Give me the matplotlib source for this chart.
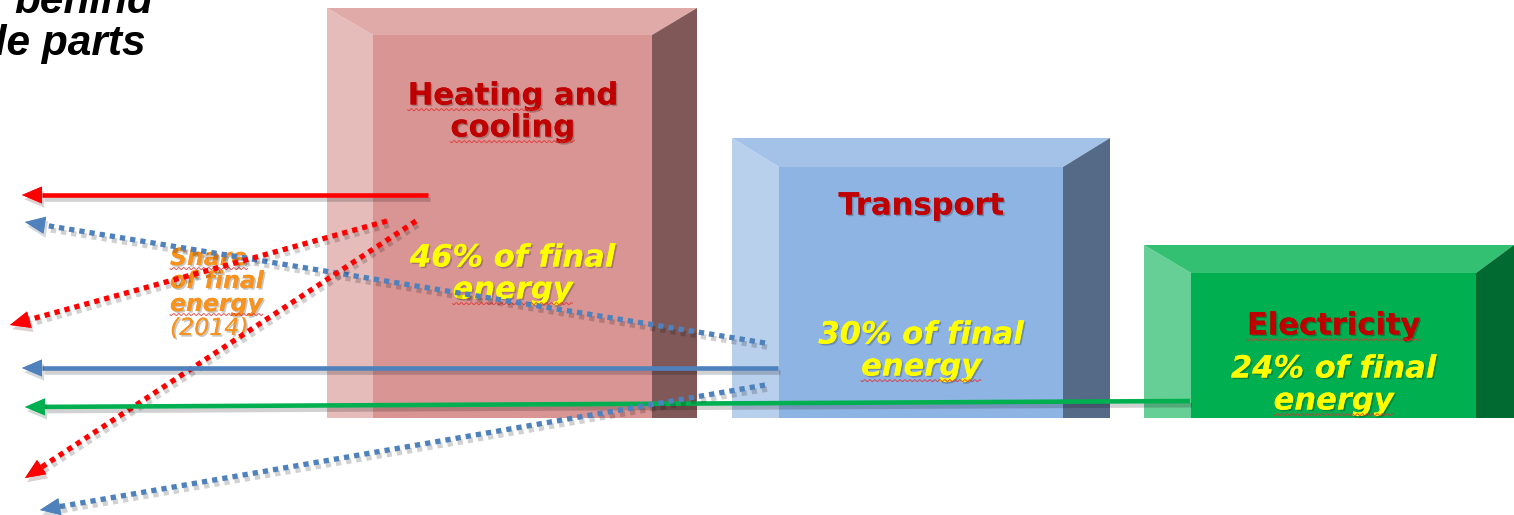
import numpy as np
import matplotlib
matplotlib.use("Agg")
import matplotlib.pyplot as plt
from matplotlib.patches import Polygon
import matplotlib.patheffects as pe

# ---------------- data ----------------
sectors = ["Heating and\ncooling", "Transport", "Electricity"]
shares = [46, 30, 24]
share_labels = ["46% of final\nenergy", "30% of final\nenergy", "24% of final\nenergy"]
bar_left = [327, 732, 1144]
bar_right = [697, 1110, 1514]
bar_top = [8, 138, 245]
baseline = 418
bevel_w = [46, 47, 47]
bevel_h = [27, 29, 28]
side_w = [45, 47, 38]
front_col = ["#d99594", "#8eb4e3", "#00b050"]
left_col = ["#e6bcbb", "#b9d0ec", "#66cf96"]
top_col = ["#e0aaa9", "#a4c2e8", "#33c073"]
right_col = ["#7f5857", "#556a87", "#006a30"]
title_y = [[96, 128], [206], [326]]
share_y = [[258, 290], [335, 367], [369, 401]]
title_wavy = [["Heating", "cooling"], [None], ["Electricity"]]
share_wavy = [[None, "energy"], [None, "energy"], [None, "energy"]]

caption_lines = ["Share", "of final", "energy"]
caption_y = [258, 281, 304]
caption_wavy = ["Share", None, "energy"]
caption_year = "(2014)"
caption_year_y = 328

# arrows: (x_start, y_start, x_tip, y_tip, colour, style)
arrows = [
    (428, 195, 22, 195, "#ff0000", "solid"),
    (765, 343, 25, 222, "#4f81bd", "dotted"),
    (387, 221, 10, 325, "#ff0000", "dotted"),
    (416, 221, 25, 478, "#ff0000", "dotted"),
    (778, 368, 22, 368, "#4f81bd", "solid"),
    (1190, 401, 25, 407, "#00b050", "solid"),
    (765, 385, 40, 510, "#4f81bd", "dotted"),
]

W, H = 1514, 515
fig = plt.figure(figsize=(W / 100, H / 100), dpi=100)
ax = fig.add_axes([0, 0, 1, 1])
ax.set_xlim(0, W)
ax.set_ylim(H, 0)
ax.axis("off")
renderer = fig.canvas.get_renderer()

# ---------------- bars ----------------
for i in range(3):
    x0, x1, t, b = bar_left[i], bar_right[i], bar_top[i], baseline
    bw, bh, sw = bevel_w[i], bevel_h[i], side_w[i]
    ax.add_patch(Polygon([(x0 + bw, t + bh), (x1 - sw, t + bh), (x1 - sw, b), (x0 + bw, b)],
                         closed=True, fc=front_col[i], ec="none", zorder=1))
    ax.add_patch(Polygon([(x0, t), (x0 + bw, t + bh), (x0 + bw, b), (x0, b)],
                         closed=True, fc=left_col[i], ec="none", zorder=1))
    ax.add_patch(Polygon([(x0, t), (x1, t), (x1 - sw, t + bh), (x0 + bw, t + bh)],
                         closed=True, fc=top_col[i], ec="none", zorder=1))
    ax.add_patch(Polygon([(x1 - sw, t + bh), (x1, t), (x1, b), (x1 - sw, b)],
                         closed=True, fc=right_col[i], ec="none", zorder=1))

shadow_txt = [pe.withSimplePatchShadow(offset=(1.2, -1.2), shadow_rgbFace="#000000", alpha=0.22), pe.Normal()]


def data_extent(txt):
    bb = txt.get_window_extent(renderer=renderer)
    inv = ax.transData.inverted()
    (xa, ya), (xb, yb) = inv.transform([(bb.x0, bb.y0), (bb.x1, bb.y1)])
    return min(xa, xb), max(xa, xb), max(ya, yb)


def wavy(x0, x1, y):
    xs = np.linspace(x0, x1, max(int((x1 - x0) * 2), 2))
    ys = y + 1.0 * np.sin((xs - x0) * 2 * np.pi / 5.0)
    ax.plot(xs, ys, color="#e03030", lw=0.7, alpha=0.8, zorder=2.5)


def put_line(x, y, s, word, ha, **kw):
    t = ax.text(x, y, s, ha=ha, va="center", zorder=2, path_effects=shadow_txt, **kw)
    if word:
        xa, xb, ybot = data_extent(t)
        tw = ax.text(xa, y, word, ha="left", va="center", alpha=0, **kw)
        wa, wb, _ = data_extent(tw)
        tw.remove()
        wavy(wa, wb, y + kw["fontsize"] * 0.62)
    return t


big = dict(fontsize=22, fontweight="bold", family="DejaVu Sans")
for i in range(3):
    cx = (bar_left[i] + bevel_w[i] + bar_right[i] - side_w[i]) / 2
    for ln, y, w in zip(sectors[i].split("\n"), title_y[i], title_wavy[i]):
        put_line(cx, y, ln, w, "center", color="#c00000", **big)
    for ln, y, w in zip(share_labels[i].split("\n"), share_y[i], share_wavy[i]):
        put_line(cx, y, ln, w, "center", color="#ffff00", style="italic", **big)

# side caption
cap = dict(fontsize=17, family="DejaVu Sans", color="#f7931e", style="italic")
for ln, y, w in zip(caption_lines, caption_y, caption_wavy):
    put_line(170, y, ln, w, "left", fontweight="bold", **cap)
put_line(170, caption_year_y, caption_year, None, "left", **cap)

# title fragment (cropped at the slide edge, as in the source slide)
ax.text(153, 2, "behind", ha="right", va="center", fontsize=30.5, fontweight="bold",
        style="italic", color="#000000", family="Liberation Sans", zorder=2)
ax.text(146, 44, "whole parts", ha="right", va="center", fontsize=30.5, fontweight="bold",
        style="italic", color="#000000", family="Liberation Sans", zorder=2)

# ---------------- arrows ----------------
shadow_line = [pe.SimpleLineShadow(offset=(1.5, -3), shadow_color="#000000", alpha=0.18), pe.Normal()]
head_len, head_w = 20, 17
for xs, ys, xt, yt, col, sty in arrows:
    d = np.array([xt - xs, yt - ys], dtype=float)
    d /= np.hypot(*d)
    n = np.array([-d[1], d[0]])
    base = np.array([xt, yt]) - head_len * d
    if sty == "solid":
        ax.plot([xs, base[0]], [ys, base[1]], color=col, lw=3.3, solid_capstyle="butt",
                zorder=3, path_effects=shadow_line)
    else:
        ax.plot([xs, base[0]], [ys, base[1]], color=col, lw=3.8, linestyle=(0, (1, 0.95)),
                dash_capstyle="butt", zorder=3, path_effects=shadow_line)
    head = [(xt, yt), tuple(base + head_w / 2 * n), tuple(base - head_w / 2 * n)]
    ax.add_patch(Polygon(head, closed=True, fc=col, ec="none", zorder=3,
                         path_effects=[pe.withSimplePatchShadow(offset=(1.5, -3), alpha=0.18), pe.Normal()]))

fig.savefig("out.png", dpi=100)
